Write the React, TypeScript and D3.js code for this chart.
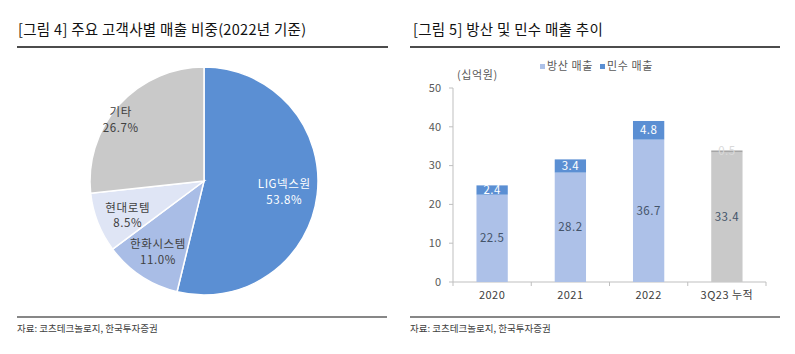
import * as d3 from 'd3';

// pie data (2022 customer share, %)
const customers = ['LIG넥스원', '한화시스템', '현대로템', '기타'];
const shares = [53.8, 11.0, 8.5, 26.7];
const pieColors = ['#5b8fd3', '#a9bde6', '#dfe5f5', '#c9c9c9'];

// bar data (십억원)
const years = ['2020', '2021', '2022', '3Q23 누적'];
const defense = [22.5, 28.2, 36.7, 33.4];
const civil = [2.4, 3.4, 4.8, 0.5];
const yTicks = [0, 10, 20, 30, 40, 50];

const FONT = '"Noto Sans CJK KR", "Noto Sans", sans-serif';

function PieChart() {
  const cx = 204;
  const cy = 181;
  const r = 114;
  const pie = d3.pie<number>().sort(null).value((d) => d);
  const arcs = pie(shares);
  const arc = d3.arc<d3.PieArcDatum<number>>().innerRadius(0).outerRadius(r);
  const labelArc = d3.arc<d3.PieArcDatum<number>>().innerRadius(r * 0.7).outerRadius(r * 0.7);
  // small manual nudges for label placement
  const nudges = [[1, 0], [-2, 3], [-2, 4], [-24, -9]];

  return (
    <g transform={`translate(${cx},${cy})`}>
      {arcs.map((a, i) => (
        <path key={i} d={arc(a) || ''} fill={pieColors[i]} stroke='#fff' strokeWidth={1.5} />
      ))}
      {arcs.map((a, i) => {
        const [x, y] = labelArc.centroid(a);
        const fill = i === 0 ? '#fff' : '#404040';
        return (
          <text key={i} x={x + nudges[i][0]} y={y + nudges[i][1]} textAnchor='middle' fontSize={11.5} fill={fill} fontFamily={FONT} letterSpacing={0.6}>
            <tspan x={x + nudges[i][0]} dy='-0.2em'>{customers[i]}</tspan>
            <tspan x={x + nudges[i][0]} dy='1.35em'>{shares[i].toFixed(1)}%</tspan>
          </text>
        );
      })}
    </g>
  );
}

function BarChart() {
  const left = 453;
  const right = 766;
  const y = d3.scaleLinear().domain([0, 50]).range([282, 88]);
  const x = d3.scaleBand().domain(years).range([left, right]).paddingInner(0.6).paddingOuter(0.3);
  const outer = d3.scaleBand().domain(years).range([left, right]);
  const light = '#adc1e8';
  const dark = '#5b8fd3';

  return (
    <g fontFamily={FONT}>
      {/* axis */}
      <line x1={left} x2={left} y1={y(0)} y2={y(50)} stroke='#bfbfbf' />
      <line x1={left} x2={right} y1={y(0)} y2={y(0)} stroke='#bfbfbf' />
      {yTicks.map((t) => (
        <g key={t}>
          <line x1={left - 4} x2={left} y1={y(t)} y2={y(t)} stroke='#bfbfbf' />
          <text x={left - 12} y={y(t)} dy='0.35em' textAnchor='end' fontSize={11} fill='#595959'>{t}</text>
        </g>
      ))}
      {years.map((yr) => (
        <line key={yr} x1={outer(yr)!} x2={outer(yr)!} y1={y(0)} y2={y(0) + 4} stroke='#bfbfbf' />
      ))}
      <line x1={right} x2={right} y1={y(0)} y2={y(0) + 4} stroke='#bfbfbf' />
      <text x={457} y={79} fontSize={11} fill='#595959' letterSpacing={0.6}>(십억원)</text>

      {years.map((yr, i) => {
        const bx = x(yr)!;
        const w = x.bandwidth();
        const last = i === years.length - 1;
        const base = defense[i];
        const top = base + civil[i];
        return (
          <g key={yr}>
            <rect x={bx} y={y(base)} width={w} height={y(0) - y(base)} fill={last ? '#c9c9c9' : light} />
            <rect x={bx} y={y(top)} width={w} height={y(base) - y(top)} fill={last ? '#a6a6a6' : dark} />
            <text x={bx + w / 2} y={(y(0) + y(base)) / 2} dy='0.35em' textAnchor='middle' fontSize={11.5} fill='#44546a' letterSpacing={0.5}>{base.toFixed(1)}</text>
            <text x={bx + w / 2} y={(y(base) + y(top)) / 2} dy='0.35em' textAnchor='middle' fontSize={11.5} fill={last ? '#d9d9d9' : '#fff'} letterSpacing={0.5}>{civil[i].toFixed(1)}</text>
            <text x={outer(yr)! + outer.bandwidth() / 2} y={y(0) + 17} textAnchor='middle' fontSize={11} fill='#404040' letterSpacing={0.5}>{yr}</text>
          </g>
        );
      })}

      {/* legend */}
      <rect x={540} y={64} width={5} height={5} fill={light} />
      <text x={547} y={70} fontSize={11} fill='#595959' letterSpacing={0.6}>방산 매출</text>
      <rect x={600} y={64} width={5} height={5} fill={dark} />
      <text x={607} y={70} fontSize={11} fill='#595959' letterSpacing={0.6}>민수 매출</text>
    </g>
  );
}

export default function App() {
  return (
    <svg width={795} height={354} style={{ position: 'absolute', left: 0, top: 0, background: '#fff' }}>
      <rect width={795} height={354} fill='#fff' />
      <text x={18} y={35} fontSize={14.5} fill='#111' fontFamily={FONT} letterSpacing={0.3}>[그림 4] 주요 고객사별 매출 비중(2022년 기준)</text>
      <line x1={17} x2={388} y1={47} y2={47} stroke='#111' strokeWidth={1.5} />
      <text x={413} y={35} fontSize={14.5} fill='#111' fontFamily={FONT} letterSpacing={0.3}>[그림 5] 방산 및 민수 매출 추이</text>
      <line x1={410} x2={780} y1={47} y2={47} stroke='#111' strokeWidth={1.5} />

      <PieChart />
      <BarChart />

      <line x1={17} x2={387} y1={317} y2={317} stroke='#111' strokeWidth={1.2} />
      <text x={17} y={332} fontSize={9.5} fill='#404040' fontFamily={FONT}>자료: 코츠테크놀로지, 한국투자증권</text>
      <line x1={410} x2={780} y1={317} y2={317} stroke='#111' strokeWidth={1.2} />
      <text x={410} y={332} fontSize={9.5} fill='#404040' fontFamily={FONT}>자료: 코츠테크놀로지, 한국투자증권</text>
    </svg>
  );
}
